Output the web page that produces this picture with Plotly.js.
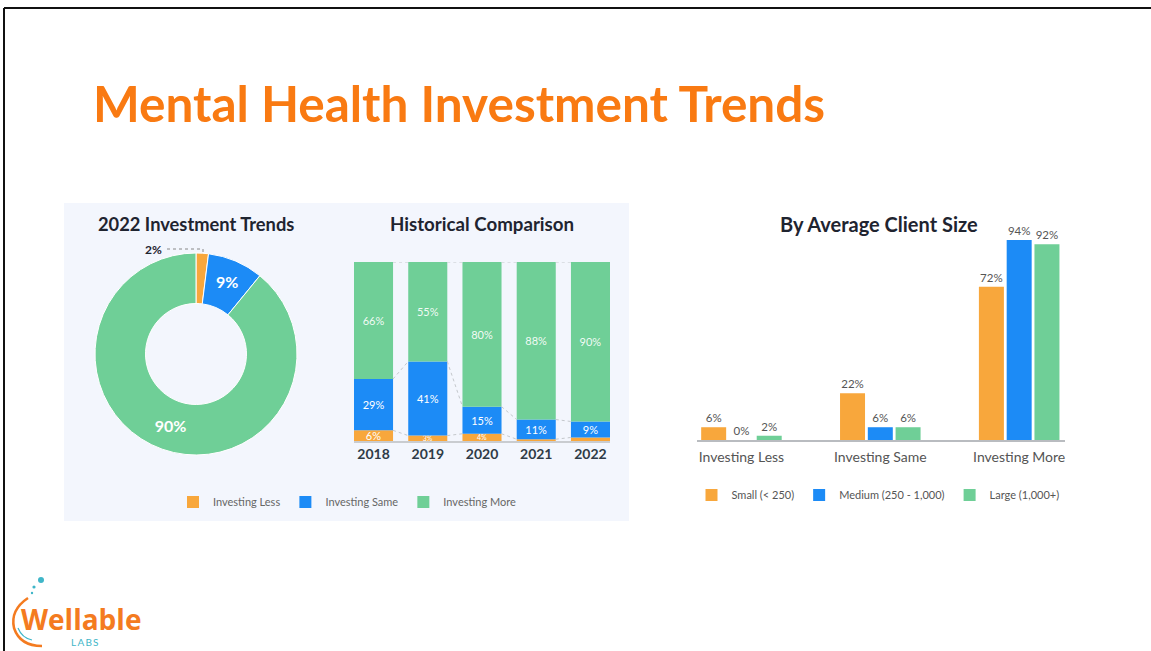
<!DOCTYPE html>
<html>
<head>
<meta charset="utf-8">
<script src="https://cdn.plot.ly/plotly-3.0.1.min.js"></script>
<style>html,body{margin:0;padding:0;background:#fff;}#chart{width:1151px;height:651px;}</style>
</head>
<body>
<div id="chart"></div>
<script>
// ---------- DATA ----------
const seriesNames = ['Investing Less', 'Investing Same', 'Investing More'];
const donutValues = [2, 9, 90];               // 2022 investment trends
const years = ['2018', '2019', '2020', '2021', '2022'];
const histLess = [6, 3, 4, 1, 2];
const histSame = [29, 41, 15, 11, 9];
const histMore = [66, 55, 80, 88, 90];
const histLessLabels = ['6%', '3%', '4%', '', ''];
const clientCategories = ['Investing Less', 'Investing Same', 'Investing More'];
const clientSizes = ['Small (< 250)', 'Medium (250 - 1,000)', 'Large (1,000+)'];
const smallVals = [6, 22, 72];
const mediumVals = [0, 6, 94];
const largeVals = [2, 6, 92];

// ---------- STYLE ----------
const W = 1151, H = 651;
const fx = p => p / W;
const fy = p => 1 - p / H;
const ORANGE = '#F8A73C', BLUE = '#1C8BF6', GREEN = '#6FCF97';
const FONT = 'Lato, "Noto Sans", sans-serif';

// normalised (100% stacked) heights
const totals = years.map((_, i) => histLess[i] + histSame[i] + histMore[i]);
const nLess = histLess.map((v, i) => v / totals[i] * 100);
const nSame = histSame.map((v, i) => v / totals[i] * 100);
const nMore = histMore.map((v, i) => v / totals[i] * 100);
const c1 = nLess;
const c2 = nLess.map((v, i) => v + nSame[i]);
const c3 = c2.map((v, i) => v + nMore[i]);
const xIdx = years.map((_, i) => i);
const BW = 0.72;

// connector lines between bars
const cx = [], cy = [];
[c1, c2, c3].forEach(c => {
  for (let i = 0; i < years.length - 1; i++) {
    cx.push(i + BW / 2, i + 1 - BW / 2, null);
    cy.push(c[i], c[i + 1], null);
  }
});

const traces = [
  {
    type: 'pie', values: donutValues, labels: seriesNames, sort: false,
    direction: 'clockwise', rotation: 0, hole: 0.5,
    marker: {colors: [ORANGE, BLUE, GREEN], line: {color: '#ffffff', width: 1}},
    domain: {x: [fx(95), fx(297)], y: [fy(455), fy(253)]},
    texttemplate: '%{value}%', textposition: ['none', 'inside', 'inside'],
    insidetextorientation: 'horizontal',
    textfont: {family: FONT, size: 16, color: '#ffffff', weight: 'bold'},
    showlegend: false, hoverinfo: 'label+value'
  },
  {
    type: 'scatter', mode: 'lines', x: cx, y: cy, xaxis: 'x', yaxis: 'y',
    line: {color: '#c4c8cc', width: 1, dash: 'dot'}, showlegend: false, hoverinfo: 'skip'
  },
  {
    type: 'bar', name: seriesNames[0], x: xIdx, y: nLess, base: 0,
    width: BW, offset: -BW / 2, marker: {color: ORANGE},
    text: histLessLabels, textposition: 'inside', insidetextanchor: 'middle', constraintext: 'none',
    textfont: {family: FONT, size: [11, 7, 7, 7, 7], color: '#ffffff'},
    xaxis: 'x', yaxis: 'y', legend: 'legend'
  },
  {
    type: 'bar', name: seriesNames[1], x: xIdx, y: nSame, base: c1,
    width: BW, offset: -BW / 2, marker: {color: BLUE},
    text: histSame.map(v => v + '%'), textposition: 'inside', insidetextanchor: 'middle', constraintext: 'none',
    textfont: {family: FONT, size: 11, color: '#ffffff'},
    xaxis: 'x', yaxis: 'y', legend: 'legend'
  },
  {
    type: 'bar', name: seriesNames[2], x: xIdx, y: nMore, base: c2,
    width: BW, offset: -BW / 2, marker: {color: GREEN},
    text: histMore.map(v => v + '%'), textposition: 'inside', insidetextanchor: 'middle', constraintext: 'none',
    textfont: {family: FONT, size: 11, color: 'rgba(255,255,255,0.92)'},
    xaxis: 'x', yaxis: 'y', legend: 'legend'
  }
];

const clientSeries = [smallVals, mediumVals, largeVals];
const clientColors = [ORANGE, BLUE, GREEN];
const clientOffsets = [-0.29, -0.09, 0.11];
clientSeries.forEach((vals, k) => {
  traces.push({
    type: 'bar', name: clientSizes[k], x: [0, 1, 2], y: vals, base: 0,
    width: 0.18, offset: clientOffsets[k], marker: {color: clientColors[k]},
    text: vals.map(v => v + '%'), textposition: 'outside', cliponaxis: false,
    textfont: {family: FONT, size: 11.5, color: '#555555'},
    xaxis: 'x2', yaxis: 'y2', legend: 'legend2'
  });
});

const bubble = (x, y, r, color) => ({
  type: 'circle', xref: 'paper', yref: 'paper',
  x0: fx(x - r), x1: fx(x + r), y0: fy(y + r), y1: fy(y - r),
  fillcolor: color, line: {width: 0}
});
const pathPx = pts => pts.map(p => typeof p === 'string' ? p : (fx(p[0]) + ',' + fy(p[1]))).join(' ');

const layout = {
  width: W, height: H,
  margin: {l: 0, r: 0, t: 0, b: 0},
  paper_bgcolor: '#ffffff', plot_bgcolor: 'rgba(0,0,0,0)',
  font: {family: FONT, color: '#333'},
  barmode: 'overlay',
  xaxis: {
    domain: [fx(354), fx(610)], range: [-BW / 2, years.length - 1 + BW / 2],
    tickvals: xIdx, ticktext: years, showgrid: false, zeroline: false,
    showline: true, linecolor: '#c9ccd0', linewidth: 1.5, ticks: '',
    tickfont: {family: FONT, size: 14, color: '#2f3b47', weight: 'bold'}, fixedrange: true
  },
  yaxis: {
    domain: [fy(441), fy(262)], range: [0, 100], showgrid: false, zeroline: false,
    showticklabels: false, showline: false, fixedrange: true
  },
  xaxis2: {
    domain: [fx(697), fx(1065)], range: [-0.32, 2.33], anchor: 'y2',
    tickvals: [0, 1, 2], ticktext: clientCategories, showgrid: false, zeroline: false,
    showline: true, linecolor: '#b9bcc0', linewidth: 1.5, ticks: '', ticklabelstandoff: 4,
    tickfont: {family: FONT, size: 14, color: '#555555'}, fixedrange: true
  },
  yaxis2: {
    domain: [fy(440), fy(227.2)], range: [0, 100], anchor: 'x2', showgrid: false,
    zeroline: false, showticklabels: false, showline: false, fixedrange: true
  },
  legend: {
    orientation: 'h', x: fx(347), xanchor: 'center', y: fy(502), yanchor: 'middle',
    traceorder: 'normal', bgcolor: 'rgba(0,0,0,0)',
    font: {family: FONT, size: 11, color: '#666666'}
  },
  legend2: {
    orientation: 'h', x: fx(878), xanchor: 'center', y: fy(495), yanchor: 'middle',
    traceorder: 'normal', bgcolor: 'rgba(0,0,0,0)',
    font: {family: FONT, size: 11, color: '#555555'}
  },
  shapes: [
    {type: 'rect', xref: 'paper', yref: 'paper', x0: fx(64), x1: fx(629), y0: fy(521), y1: fy(203),
     fillcolor: '#F3F6FD', line: {width: 0}, layer: 'below'},
    {type: 'line', xref: 'paper', yref: 'paper', x0: fx(4), x1: 1, y0: fy(8), y1: fy(8),
     line: {color: '#111', width: 2}},
    {type: 'line', xref: 'paper', yref: 'paper', x0: fx(4), x1: fx(4), y0: fy(8), y1: 0,
     line: {color: '#111', width: 2}},
    {type: 'path', xref: 'paper', yref: 'paper',
     path: 'M ' + pathPx([[167, 249], 'L', [203, 249], 'L', [203, 254]]),
     line: {color: '#888', width: 1, dash: 'dot'}},
    // logo decorations
    bubble(41, 580, 3, '#3FB6C8'),
    bubble(34, 587, 1.6, '#3FB6C8'),
    bubble(32, 593, 1.2, '#3FB6C8'),
    {type: 'path', xref: 'paper', yref: 'paper',
     path: 'M ' + pathPx([[28, 598], 'Q', [10, 610], [14, 628], 'Q', [20, 646], [42, 646]]),
     line: {color: '#F47B20', width: 2.5}},
    {type: 'path', xref: 'paper', yref: 'paper',
     path: 'M ' + pathPx([[18, 628], 'Q', [22, 638], [32, 640]]),
     line: {color: '#3FB6C8', width: 1.2}}
  ],
  annotations: [
    {xref: 'paper', yref: 'paper', x: fx(91), y: fy(103), xanchor: 'left', yanchor: 'middle',
     text: 'Mental Health Investment Trends', showarrow: false,
     font: {family: 'Lato, "Open Sans", sans-serif', size: 49.5, color: '#F97A12', weight: 'bold'}},
    {xref: 'paper', yref: 'paper', x: fx(196), y: fy(224), xanchor: 'center', yanchor: 'middle',
     text: '2022 Investment Trends', showarrow: false,
     font: {family: FONT, size: 18.3, color: '#1f2430', weight: 'bold'}},
    {xref: 'paper', yref: 'paper', x: fx(482), y: fy(224), xanchor: 'center', yanchor: 'middle',
     text: 'Historical Comparison', showarrow: false,
     font: {family: FONT, size: 18.7, color: '#1f2430', weight: 'bold'}},
    {xref: 'paper', yref: 'paper', x: fx(879), y: fy(224), xanchor: 'center', yanchor: 'middle',
     text: 'By Average Client Size', showarrow: false,
     font: {family: FONT, size: 20, color: '#1f2430', weight: 'bold'}},
    {xref: 'paper', yref: 'paper', x: fx(153), y: fy(249), xanchor: 'center', yanchor: 'middle',
     text: donutValues[0] + '%', showarrow: false,
     font: {family: FONT, size: 12, color: '#1f2430', weight: 'bold'}},
    {xref: 'paper', yref: 'paper', x: fx(19), y: fy(619), xanchor: 'left', yanchor: 'middle',
     text: 'Wellable', showarrow: false,
     font: {family: '"Open Sans", Lato, sans-serif', size: 28, color: '#F47B20', weight: 'bold'}},
    {xref: 'paper', yref: 'paper', x: fx(85), y: fy(642), xanchor: 'center', yanchor: 'middle',
     text: 'L\u2009A\u2009B\u2009S', showarrow: false,
     font: {family: FONT, size: 10, color: '#3FB6C8'}}
  ]
};

Plotly.newPlot('chart', traces, layout, {displayModeBar: false, staticPlot: true});
</script>
</body>
</html>
